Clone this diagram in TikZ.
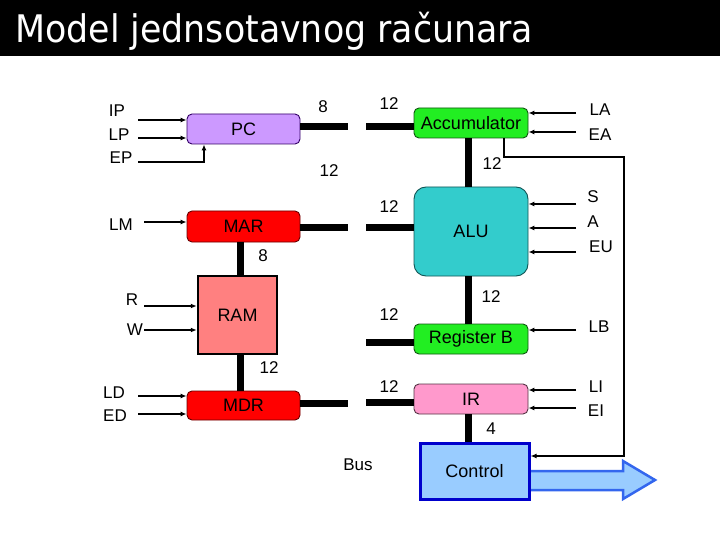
\documentclass[tikz,border=0pt]{standalone}
\usepackage{fontspec}
\setmainfont{Liberation Sans}
\newfontfamily\titlefont{DejaVu Sans}
\usetikzlibrary{arrows.meta,calc}
\definecolor{pcfill}{HTML}{CC99FF}
\definecolor{pcline}{HTML}{330066}
\definecolor{redfill}{HTML}{FF0000}
\definecolor{redline}{HTML}{660000}
\definecolor{ramfill}{HTML}{FF8080}
\definecolor{grnfill}{HTML}{22EE22}
\definecolor{grnline}{HTML}{115511}
\definecolor{alufill}{HTML}{33CCCC}
\definecolor{alucline}{HTML}{115555}
\definecolor{irfill}{HTML}{FF99CC}
\definecolor{irline}{HTML}{553344}
\definecolor{ctrlfill}{HTML}{99CCFF}
\definecolor{ctrlline}{HTML}{0000CC}
\definecolor{arrline}{HTML}{3366EE}
\tikzset{
  reg/.style={draw, line width=0.9pt, rounded corners=5pt, inner sep=0pt, font=\fontsize{18}{21}\selectfont},
  lbl/.style={inner sep=0pt, font=\fontsize{17}{20}\selectfont},
  stub/.style={line width=7pt},
  sig/.style={line width=1.3pt, -{Latex[length=6pt,width=5pt]}},
  sigline/.style={line width=1.3pt}
}
\begin{document}
\begin{tikzpicture}[x=1pt,y=-1pt]
\useasboundingbox (0,0) rectangle (720,540);
\fill[white] (0,0) rectangle (720,540);
\fill[black] (0,0) rectangle (720,56);
\node[anchor=base west, inner sep=0pt, text=white] (title) at (15,43)
  {\resizebox{518pt}{\height}{\titlefont\fontsize{38}{44}\selectfont Model jednsotavnog računara}};

% boxes
\node[reg, fill=pcfill, draw=pcline, minimum width=113pt, minimum height=30pt] (pc) at (243.5,129) {PC};
\node[reg, fill=redfill, draw=redline, minimum width=113pt, minimum height=31pt] (mar) at (243.5,226.5) {MAR};
\node[draw, line width=2.5pt, fill=ramfill, inner sep=0pt, minimum width=79pt, minimum height=78pt, font=\fontsize{18}{21}\selectfont] (ram) at (237.5,315) {RAM};
\node[reg, fill=redfill, draw=redline, minimum width=113pt, minimum height=29pt] (mdr) at (243.5,405.5) {MDR};
\node[reg, fill=grnfill, draw=grnline, minimum width=114pt, minimum height=30pt] (acc) at (471,123) {Accumulator};
\node[reg, fill=alufill, draw=alucline, rounded corners=12pt, minimum width=114pt, minimum height=89pt] (alu) at (471,231.5) {ALU};
\node[reg, fill=grnfill, draw=grnline, minimum width=114pt, minimum height=30pt] (regb) at (471,339) {Register B};
\node[reg, fill=irfill, draw=irline, minimum width=114pt, minimum height=30pt] (ir) at (471,399) {IR};

% big output arrow
\path[fill=ctrlfill, draw=arrline, line width=2.5pt, line join=miter]
  (526,471) -- (623,471) -- (623,461) -- (655,480) -- (623,499) -- (623,490) -- (526,490);
\node[draw=ctrlline, line width=3pt, fill=ctrlfill, inner sep=0pt, minimum width=109pt, minimum height=56pt, font=\fontsize{18}{21}\selectfont] (ctrl) at (474.5,471) {Control};

% bus stubs
\coordinate (pcb) at (348,127);
\coordinate (marb) at (348,228);
\coordinate (mdrb) at (348,403);
\coordinate (accb) at (366,127);
\coordinate (alub) at (366,228);
\coordinate (regbb) at (366,342);
\coordinate (irb) at (366,402);
\draw[stub] (pc.east |- pcb) -- (pcb);
\draw[stub] (mar.east |- marb) -- (marb);
\draw[stub] (mdr.east |- mdrb) -- (mdrb);
\draw[stub] (acc.west |- accb) -- (accb);
\draw[stub] (alu.west |- alub) -- (alub);
\draw[stub] (regb.west |- regbb) -- (regbb);
\draw[stub] (ir.west |- irb) -- (irb);

% internal thick links
\coordinate (colm) at (240,0);
\coordinate (colr) at (468,0);
\draw[stub] (colm |- mar.south) -- (colm |- ram.north);
\draw[stub] (colm |- ram.south) -- (colm |- mdr.north);
\draw[stub] (colr |- acc.south) -- (colr |- alu.north);
\draw[stub] (colr |- alu.south) -- (colr |- regb.north);
\draw[stub] (colr |- ir.south) -- (colr |- ctrl.north);

% left control signals
\coordinate (sip) at (138,120);
\coordinate (slp) at (138,138);
\coordinate (sep) at (138,162);
\coordinate (epx) at (204,0);
\coordinate (slm) at (144,222);
\coordinate (sr) at (144,306);
\coordinate (sw) at (144,330);
\coordinate (sld) at (138,396);
\coordinate (sed) at (138,414);
\draw[sig] (sip) -- (sip -| pc.west);
\draw[sig] (slp) -- (slp -| pc.west);
\draw[sig] (sep) -| (epx |- pc.south);
\draw[sig] (slm) -- (slm -| mar.west);
\draw[sig] (sr) -- (sr -| ram.west);
\draw[sig] (sw) -- (sw -| ram.west);
\draw[sig] (sld) -- (sld -| mdr.west);
\draw[sig] (sed) -- (sed -| mdr.west);

% right control signals
\coordinate (sla) at (576,113);
\coordinate (sea) at (576,132);
\coordinate (ss) at (576,204);
\coordinate (sa) at (576,228);
\coordinate (seu) at (576,252);
\coordinate (slb) at (576,330);
\coordinate (sli) at (576,390);
\coordinate (sei) at (576,408);
\draw[sig] (sla) -- (sla -| acc.east);
\draw[sig] (sea) -- (sea -| acc.east);
\draw[sig] (ss) -- (ss -| alu.east);
\draw[sig] (sa) -- (sa -| alu.east);
\draw[sig] (seu) -- (seu -| alu.east);
\draw[sig] (slb) -- (slb -| regb.east);
\draw[sig] (sli) -- (sli -| ir.east);
\draw[sig] (sei) -- (sei -| ir.east);

% feedback line accumulator -> control
\coordinate (fbx) at (504,0);
\coordinate (fbc) at (624,157);
\coordinate (fbd) at (624,456);
\draw[sig] (fbx |- acc.south) -- (fbx |- fbc) -- (fbc) -- (fbd) -- (ctrl.east |- fbd);

% labels
\node[lbl] (lip) at (117,111) {IP};
\node[lbl] (llp) at (119,135) {LP};
\node[lbl] (lep) at (121,158) {EP};
\node[lbl] (llm) at (121,225) {LM};
\node[lbl] (lr) at (132,300) {R};
\node[lbl] (lw) at (135,330) {W};
\node[lbl] (lld) at (114,393) {LD};
\node[lbl] (led) at (115,416) {ED};
\node[lbl] (n8a) at (323,107) {8};
\node[lbl] (n12a) at (389,104) {12};
\node[lbl] (n12b) at (329,171) {12};
\node[lbl] (n8b) at (263,256) {8};
\node[lbl] (n12c) at (269,368) {12};
\node[lbl] (n12d) at (389,207) {12};
\node[lbl] (n12e) at (492,164) {12};
\node[lbl] (n12f) at (491,297) {12};
\node[lbl] (n12g) at (389,315) {12};
\node[lbl] (n12h) at (389,387) {12};
\node[lbl] (n4) at (491,429) {4};
\node[lbl] (lbus) at (358,465) {Bus};
\node[lbl] (lla) at (600,110) {LA};
\node[lbl] (lea) at (600,135) {EA};
\node[lbl] (ls) at (593,197) {S};
\node[lbl] (la) at (593,222) {A};
\node[lbl] (leu) at (601,247) {EU};
\node[lbl] (llb) at (599,327) {LB};
\node[lbl] (lli) at (596,387) {LI};
\node[lbl] (lei) at (596,411) {EI};
\end{tikzpicture}
\end{document}
